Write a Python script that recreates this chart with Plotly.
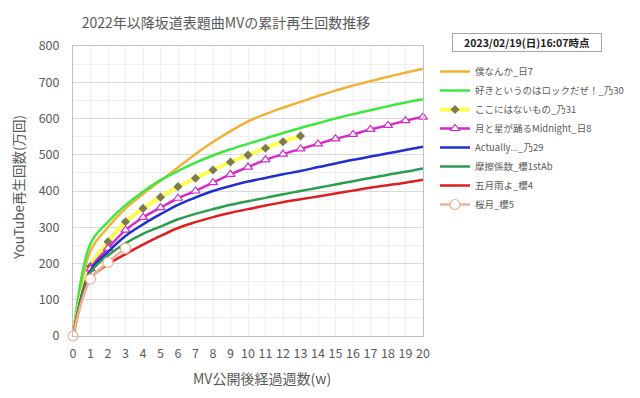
import plotly.graph_objects as go

weeks = list(range(21))
weeks_nogi31 = list(range(14))
weeks_sakura5 = list(range(4))

hinata7 = [0, 235, 300, 352, 392, 428, 465, 502, 535, 565, 592, 612, 630, 646, 662, 677, 691, 703, 715, 726, 737]
nogi30 = [0, 255, 315, 361, 398, 430, 455, 478, 498, 515, 530, 545, 560, 574, 587, 600, 612, 623, 634, 644, 653]
nogi31 = [0, 192, 260, 315, 352, 383, 412, 435, 458, 480, 499, 518, 536, 552]
hinata8 = [0, 185, 242, 292, 327, 354, 380, 400, 423, 446, 466, 486, 502, 516, 530, 544, 556, 570, 581, 594, 604]
nogi29 = [0, 180, 232, 276, 308, 336, 362, 382, 400, 414, 426, 436, 446, 455, 466, 476, 486, 495, 504, 513, 522]
sakura1st = [0, 175, 222, 256, 282, 302, 322, 337, 350, 362, 372, 381, 391, 400, 409, 418, 427, 436, 445, 453, 462]
sakura4 = [0, 158, 198, 226, 252, 276, 298, 314, 328, 340, 350, 360, 369, 377, 385, 393, 401, 409, 416, 423, 431]
sakura5 = [0, 157, 203, 242]

names = ["僕なんか_日7", "好きというのはロックだぜ！_乃30", "ここにはないもの_乃31",
         "月と星が踊るMidnight_日8", "Actually..._乃29", "摩擦係数_櫻1stAb", "五月雨よ_櫻4", "桜月_櫻5"]

title_text = "2022年以降坂道表題曲MVの累計再生回数推移"
stamp_text = "2023/02/19(日)16:07時点"
y_title = "YouTube再生回数(万回)"
x_title = "MV公開後経過週数(w)"

FONT = "Noto Sans CJK JP"
GRAY = "#595959"

# the page body has an 8px margin: the figure is sized so it fits the 640x398 window
OFF = 8
W, H = 640 - OFF, 398 - OFF

fig = go.Figure()

def add(x, y, name, color, width=2.5, marker=None):
    kw = dict(x=x, y=y, name=name, line=dict(color=color, width=width, shape="spline", smoothing=1),
              cliponaxis=False)
    if marker:
        kw["mode"] = "lines+markers"
        kw["marker"] = marker
    else:
        kw["mode"] = "lines"
    fig.add_trace(go.Scatter(**kw))

add(weeks, hinata7, names[0], "#f2b134")
add(weeks, nogi30, names[1], "#3ee83e")
add(weeks_nogi31, nogi31, names[2], "#ffff4d", width=4,
    marker=dict(symbol="diamond", size=7, color="#7d7a4e"))
add(weeks, hinata8, names[3], "#d62bc9",
    marker=dict(symbol="triangle-up", size=8, color="white", line=dict(color="#d62bc9", width=1.2)))
add(weeks, nogi29, names[4], "#1f2fd0")
add(weeks, sakura1st, names[5], "#2a9d4f")
add(weeks, sakura4, names[6], "#dd1f1f")
add(weeks_sakura5, sakura5, names[7], "#eeb394",
    marker=dict(symbol="circle", size=10, color="white", line=dict(color="#eeb394", width=1.2)))

fig.update_layout(
    width=W, height=H,
    margin=dict(l=73 - OFF, r=640 - 423, t=46 - OFF, b=398 - 336, autoexpand=False),
    paper_bgcolor="white", plot_bgcolor="white",
    font=dict(family=FONT, color=GRAY, size=12),
    showlegend=True,
    legend=dict(x=(435 - 73) / 350, xanchor="left", y=(336 - 57) / 290, yanchor="top",
                font=dict(size=9.5, color=GRAY), bgcolor="rgba(0,0,0,0)",
                itemwidth=30, tracegroupgap=0),
    title=dict(text=title_text, x=(226 - OFF) / W, xref="container", xanchor="center",
               y=1 - (23 - OFF) / H, yref="container", yanchor="middle",
               font=dict(size=14, color=GRAY, family=FONT)),
    xaxis=dict(range=[0, 20], dtick=1, tick0=0, showgrid=True, gridcolor="#efefef", gridwidth=1,
               showline=True, linecolor="#c0c0c0", linewidth=1, mirror=True,
               zeroline=False, ticks="", ticklabelstandoff=6,
               tickfont=dict(size=12.5, color=GRAY)),
    yaxis=dict(range=[0, 800], dtick=100, tick0=0, showgrid=True, gridcolor="#d9d9d9", gridwidth=1,
               minor=dict(dtick=50, showgrid=True, gridcolor="#f0f0f0", gridwidth=1),
               showline=True, linecolor="#c0c0c0", linewidth=1, mirror=True,
               zeroline=False, ticks="", ticklabelstandoff=10,
               tickfont=dict(size=12.5, color=GRAY)),
    annotations=[
        dict(text=y_title, textangle=-90, xref="paper", yref="paper",
             x=(18 - 73) / 350, y=(336 - 188) / 290, xanchor="center", yanchor="middle",
             showarrow=False, font=dict(size=13.5, color=GRAY)),
        dict(text=x_title, xref="paper", yref="paper",
             x=(262 - 73) / 350, y=(336 - 378) / 290, xanchor="center", yanchor="middle",
             showarrow=False, font=dict(size=14, color=GRAY)),
        dict(text="<b>" + stamp_text + "</b>", xref="paper", yref="paper",
             x=(527 - 73) / 350, y=(336 - 42.5) / 290, xanchor="center", yanchor="middle",
             showarrow=False, font=dict(size=10.5, color="#222222"),
             bordercolor="#a6a6a6", borderwidth=1, borderpad=1, width=146, height=15,
             bgcolor="white"),
    ],
)

fig.write_html("out.html")
